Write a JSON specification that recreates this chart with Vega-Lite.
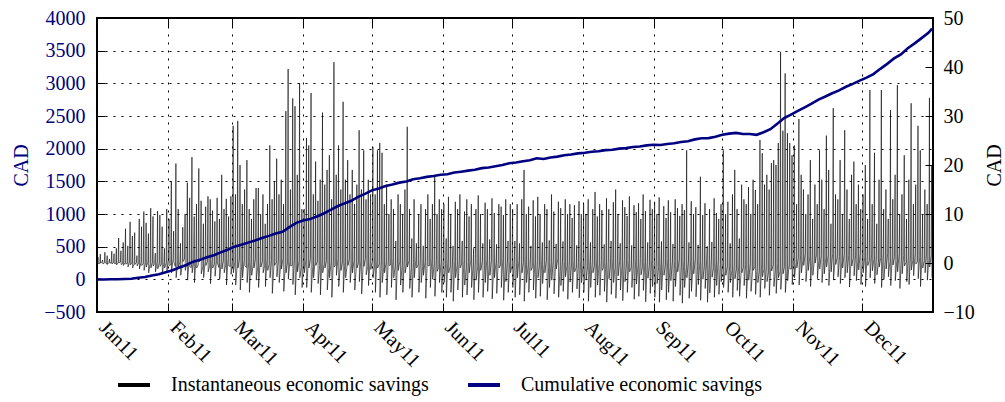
{
"$schema":"https://vega.github.io/schema/vega-lite/v6.json",
"width":836,"height":294,"autosize":"none",
"padding":{"left":97,"top":18,"right":72,"bottom":90},
"background":"white",
"config":{"font":"Liberation Serif, Times New Roman, DejaVu Serif, serif","view":{"stroke":"black","strokeWidth":2},
"axis":{"labelFont":"Liberation Serif, Times New Roman, DejaVu Serif, serif","titleFont":"Liberation Serif, Times New Roman, DejaVu Serif, serif","labelFontSize":20,"titleFontSize":20,"titleFontWeight":"normal","domain":false,"tickColor":"black","tickWidth":1,"gridColor":"black","gridDash":[2,6],"gridWidth":1,"gridOpacity":1,"labelColor":"black"},
"legend":{"orient":"none","legendX":19,"legendY":349,"direction":"horizontal","labelFont":"Liberation Serif, Times New Roman, DejaVu Serif, serif","labelFontSize":20,"symbolType":"stroke","symbolSize":1024,"symbolStrokeWidth":4,"labelOffset":19,"columnPadding":31,"labelLimit":500,"padding":0}},
"datasets":{
"inst":[
{"d":0.2,"v":0.1},{"d":0.45,"v":1.2},{"d":0.55,"v":-0.1},
{"d":1.2,"v":-0.1},{"d":1.45,"v":1.8},{"d":1.55,"v":0},
{"d":2.2,"v":0.2},{"d":2.45,"v":0.6},{"d":2.55,"v":-0.2},
{"d":3.2,"v":0},{"d":3.45,"v":2.2},{"d":3.55,"v":0.1},
{"d":4.2,"v":-0.2},{"d":4.45,"v":1.5},{"d":4.55,"v":-0.3},
{"d":5.2,"v":0.1},{"d":5.45,"v":0.8},{"d":5.55,"v":0},
{"d":6.2,"v":0},{"d":6.45,"v":2.4},{"d":6.55,"v":-0.2},
{"d":7.2,"v":0.15},{"d":7.45,"v":1.9},{"d":7.55,"v":-0.1},
{"d":8.2,"v":-0.1},{"d":8.45,"v":3.0},{"d":8.55,"v":-0.4},
{"d":9.2,"v":0.05},{"d":9.45,"v":5.1},{"d":9.55,"v":0},
{"d":10.2,"v":0.2},{"d":10.45,"v":2.5},{"d":10.55,"v":-0.3},
{"d":11.2,"v":-0.15},{"d":11.45,"v":4.2},{"d":11.55,"v":-0.5},
{"d":12.2,"v":0.1},{"d":12.45,"v":7.0},{"d":12.55,"v":-0.2},
{"d":13.2,"v":-0.1},{"d":13.45,"v":3.5},{"d":13.55,"v":-0.8},
{"d":14.2,"v":0.2},{"d":14.45,"v":8.4},{"d":14.55,"v":-0.4},
{"d":15.2,"v":0},{"d":15.45,"v":5.5},{"d":15.55,"v":-1.0},
{"d":16.2,"v":-0.2},{"d":16.45,"v":6.2},{"d":16.55,"v":-0.3},
{"d":17.2,"v":0.1},{"d":17.45,"v":1.5},{"d":17.55,"v":-0.6},
{"d":18.2,"v":0},{"d":18.45,"v":9.0},{"d":18.55,"v":-1.2},
{"d":19.2,"v":0.15},{"d":19.45,"v":7.4},{"d":19.55,"v":-0.5},
{"d":20.2,"v":-0.1},{"d":20.45,"v":10.5},{"d":20.55,"v":-1.5},
{"d":21.2,"v":0.05},{"d":21.45,"v":8.2},{"d":21.55,"v":-0.8},
{"d":22.2,"v":0.2},{"d":22.45,"v":6.0},{"d":22.55,"v":-2.0},
{"d":23.2,"v":-0.15},{"d":23.45,"v":11.2},{"d":23.55,"v":-1.0},
{"d":24.2,"v":0.1},{"d":24.45,"v":9.5},{"d":24.55,"v":-0.6},
{"d":25.2,"v":-0.1},{"d":25.45,"v":2.0},{"d":25.55,"v":-1.8},
{"d":26.2,"v":0.2},{"d":26.45,"v":10.6},{"d":26.55,"v":-1.2},
{"d":27.2,"v":0},{"d":27.45,"v":9.8},{"d":27.55,"v":-0.7},
{"d":28.2,"v":-0.2},{"d":28.45,"v":7.4},{"d":28.55,"v":-2.2},
{"d":29.2,"v":0.1},{"d":29.45,"v":3.0},{"d":29.55,"v":-1.0},
{"d":30.2,"v":0},{"d":30.45,"v":11.0},{"d":30.55,"v":-1.6},
{"d":31.2,"v":0.6},{"d":31.45,"v":9.0},{"d":31.55,"v":-0.5},
{"d":32.2,"v":-0.4},{"d":32.45,"v":16.7},{"d":32.55,"v":-2},
{"d":33.2,"v":0.9},{"d":33.45,"v":6.5},{"d":33.55,"v":0.2},
{"d":34.2,"v":-0.7},{"d":34.45,"v":20.3},{"d":34.55,"v":-3},
{"d":35.2,"v":0.2},{"d":35.45,"v":11.0},{"d":35.55,"v":-1},
{"d":36.2,"v":0.3},{"d":36.45,"v":4.0},{"d":36.55,"v":-2.5},
{"d":37.2,"v":-0.5},{"d":37.45,"v":7.3},{"d":37.55,"v":0.3},
{"d":38.2,"v":0.8},{"d":38.45,"v":10.0},{"d":38.55,"v":-1.5},
{"d":39.2,"v":-0.2},{"d":39.45,"v":16.4},{"d":39.55,"v":-3.5},
{"d":40.2,"v":0.5},{"d":40.45,"v":13.3},{"d":40.55,"v":-0.8},
{"d":41.2,"v":-0.9},{"d":41.45,"v":21.6},{"d":41.55,"v":-2},
{"d":42.2,"v":0.1},{"d":42.45,"v":9.5},{"d":42.55,"v":-4},
{"d":43.2,"v":0.6},{"d":43.45,"v":12.0},{"d":43.55,"v":-1},
{"d":44.2,"v":-0.4},{"d":44.45,"v":19.3},{"d":44.55,"v":0.2},
{"d":45.2,"v":0.9},{"d":45.45,"v":12.7},{"d":45.55,"v":-2.2},
{"d":46.2,"v":-0.7},{"d":46.45,"v":8.0},{"d":46.55,"v":-3},
{"d":47.2,"v":0.2},{"d":47.45,"v":11.5},{"d":47.55,"v":-0.5},
{"d":48.2,"v":0.3},{"d":48.45,"v":13.6},{"d":48.55,"v":-1.8},
{"d":49.2,"v":-0.5},{"d":49.45,"v":13.0},{"d":49.55,"v":-4.2},
{"d":50.2,"v":0.8},{"d":50.45,"v":10.7},{"d":50.55,"v":-1},
{"d":51.2,"v":-0.2},{"d":51.45,"v":8.5},{"d":51.55,"v":-2.7},
{"d":52.2,"v":0.5},{"d":52.45,"v":13.3},{"d":52.55,"v":0},
{"d":53.2,"v":-0.9},{"d":53.45,"v":9.0},{"d":53.55,"v":-3.3},
{"d":54.2,"v":0.1},{"d":54.45,"v":18.0},{"d":54.55,"v":-1.2},
{"d":55.2,"v":0.6},{"d":55.45,"v":11.0},{"d":55.55,"v":-2},
{"d":56.2,"v":-0.4},{"d":56.45,"v":13.1},{"d":56.55,"v":-4.5},
{"d":57.2,"v":0.9},{"d":57.45,"v":9.5},{"d":57.55,"v":-0.6},
{"d":58.2,"v":-0.7},{"d":58.45,"v":13.6},{"d":58.55,"v":-2.3},
{"d":59.2,"v":0.2},{"d":59.45,"v":28},{"d":59.55,"v":-2},
{"d":60.2,"v":0.3},{"d":60.45,"v":14},{"d":60.55,"v":-4.5},
{"d":61.2,"v":-0.5},{"d":61.45,"v":29},{"d":61.55,"v":-1},
{"d":62.2,"v":0.8},{"d":62.45,"v":20},{"d":62.55,"v":-5.5},
{"d":63.2,"v":-0.2},{"d":63.45,"v":12},{"d":63.55,"v":-3},
{"d":64.2,"v":0.5},{"d":64.45,"v":15},{"d":64.55,"v":-0.5},
{"d":65.2,"v":-0.9},{"d":65.45,"v":21},{"d":65.55,"v":-4},
{"d":66.2,"v":0.1},{"d":66.45,"v":11},{"d":66.55,"v":-6},
{"d":67.2,"v":0.6},{"d":67.45,"v":9},{"d":67.55,"v":-2.5},
{"d":68.2,"v":-0.4},{"d":68.45,"v":13},{"d":68.55,"v":-1},
{"d":69.2,"v":0.9},{"d":69.45,"v":15.3},{"d":69.55,"v":-3.5},
{"d":70.2,"v":-0.7},{"d":70.45,"v":15.3},{"d":70.55,"v":-5},
{"d":71.2,"v":0.2},{"d":71.45,"v":10},{"d":71.55,"v":-0.8},
{"d":72.2,"v":0.3},{"d":72.45,"v":14},{"d":72.55,"v":-2},
{"d":73.2,"v":-0.5},{"d":73.45,"v":8},{"d":73.55,"v":-4.8},
{"d":74.2,"v":0.8},{"d":74.45,"v":12},{"d":74.55,"v":-1.5},
{"d":75.2,"v":-0.2},{"d":75.45,"v":24},{"d":75.55,"v":-3},
{"d":76.2,"v":0.5},{"d":76.45,"v":13},{"d":76.55,"v":-6.2},
{"d":77.2,"v":-0.9},{"d":77.45,"v":16.7},{"d":77.55,"v":-0.5},
{"d":78.2,"v":0.1},{"d":78.45,"v":21.3},{"d":78.55,"v":-2.8},
{"d":79.2,"v":0.6},{"d":79.45,"v":14},{"d":79.55,"v":-4},
{"d":80.2,"v":-0.4},{"d":80.45,"v":17},{"d":80.55,"v":-1.2},
{"d":81.2,"v":0.9},{"d":81.45,"v":12},{"d":81.55,"v":-5.8},
{"d":82.2,"v":-0.7},{"d":82.45,"v":31},{"d":82.55,"v":-2},
{"d":83.2,"v":0.2},{"d":83.45,"v":39.6},{"d":83.55,"v":-3.3},
{"d":84.2,"v":0.3},{"d":84.45,"v":15},{"d":84.55,"v":-0.6},
{"d":85.2,"v":-0.5},{"d":85.45,"v":33.6},{"d":85.55,"v":-4.4},
{"d":86.2,"v":0.8},{"d":86.45,"v":32},{"d":86.55,"v":-6.5},
{"d":87.2,"v":-0.2},{"d":87.45,"v":18},{"d":87.55,"v":-1.8},
{"d":88.2,"v":0.5},{"d":88.45,"v":36.7},{"d":88.55,"v":-3},
{"d":89.2,"v":-0.9},{"d":89.45,"v":11},{"d":89.55,"v":-5},
{"d":90.2,"v":0.1},{"d":90.45,"v":11},{"d":90.55,"v":-2},
{"d":91.2,"v":0.6},{"d":91.45,"v":25.5},{"d":91.55,"v":-5},
{"d":92.2,"v":-0.4},{"d":92.45,"v":24},{"d":92.55,"v":-1},
{"d":93.2,"v":0.9},{"d":93.45,"v":34.7},{"d":93.55,"v":-6},
{"d":94.2,"v":-0.7},{"d":94.45,"v":14},{"d":94.55,"v":-3},
{"d":95.2,"v":0.2},{"d":95.45,"v":20.7},{"d":95.55,"v":-0.5},
{"d":96.2,"v":0.3},{"d":96.45,"v":12.7},{"d":96.55,"v":-4.2},
{"d":97.2,"v":-0.5},{"d":97.45,"v":17},{"d":97.55,"v":-6.5},
{"d":98.2,"v":0.8},{"d":98.45,"v":30.7},{"d":98.55,"v":-2},
{"d":99.2,"v":-0.2},{"d":99.45,"v":16},{"d":99.55,"v":-1},
{"d":100.2,"v":0.5},{"d":100.45,"v":19},{"d":100.55,"v":-5.5},
{"d":101.2,"v":-0.9},{"d":101.45,"v":22},{"d":101.55,"v":-3},
{"d":102.2,"v":0.1},{"d":102.45,"v":13},{"d":102.55,"v":-7},
{"d":103.2,"v":0.6},{"d":103.45,"v":41},{"d":103.55,"v":-0.8},
{"d":104.2,"v":-0.4},{"d":104.45,"v":18},{"d":104.55,"v":-2.5},
{"d":105.2,"v":0.9},{"d":105.45,"v":24},{"d":105.55,"v":-4.8},
{"d":106.2,"v":-0.7},{"d":106.45,"v":15},{"d":106.55,"v":-1.5},
{"d":107.2,"v":0.2},{"d":107.45,"v":32.9},{"d":107.55,"v":-6},
{"d":108.2,"v":0.3},{"d":108.45,"v":17},{"d":108.55,"v":-3},
{"d":109.2,"v":-0.5},{"d":109.45,"v":21},{"d":109.55,"v":-0.5},
{"d":110.2,"v":0.8},{"d":110.45,"v":14},{"d":110.55,"v":-4},
{"d":111.2,"v":-0.2},{"d":111.45,"v":19},{"d":111.55,"v":-2},
{"d":112.2,"v":0.5},{"d":112.45,"v":12},{"d":112.55,"v":-5.5},
{"d":113.2,"v":-0.9},{"d":113.45,"v":16},{"d":113.55,"v":-1},
{"d":114.2,"v":0.1},{"d":114.45,"v":27.1},{"d":114.55,"v":-3.8},
{"d":115.2,"v":0.6},{"d":115.45,"v":15},{"d":115.55,"v":-6.3},
{"d":116.2,"v":-0.4},{"d":116.45,"v":23},{"d":116.55,"v":-0.7},
{"d":117.2,"v":0.9},{"d":117.45,"v":13},{"d":117.55,"v":-2.4},
{"d":118.2,"v":-0.7},{"d":118.45,"v":17},{"d":118.55,"v":-4.6},
{"d":119.2,"v":0.2},{"d":119.45,"v":14},{"d":119.55,"v":-1.3},
{"d":120.2,"v":0.3},{"d":120.45,"v":23.7},{"d":120.55,"v":-3},
{"d":121.2,"v":-0.5},{"d":121.45,"v":14},{"d":121.55,"v":-6},
{"d":122.2,"v":0.8},{"d":122.45,"v":23},{"d":122.55,"v":-1},
{"d":123.2,"v":-0.2},{"d":123.45,"v":24.5},{"d":123.55,"v":-7},
{"d":124.2,"v":0.5},{"d":124.45,"v":22.5},{"d":124.55,"v":-4},
{"d":125.2,"v":-0.9},{"d":125.45,"v":12},{"d":125.55,"v":-2},
{"d":126.2,"v":0.1},{"d":126.45,"v":16},{"d":126.55,"v":-6.5},
{"d":127.2,"v":0.6},{"d":127.45,"v":10},{"d":127.55,"v":-0.5},
{"d":128.2,"v":-0.4},{"d":128.45,"v":13},{"d":128.55,"v":-5},
{"d":129.2,"v":0.9},{"d":129.45,"v":11},{"d":129.55,"v":-3},
{"d":130.2,"v":-0.7},{"d":130.45,"v":4.5},{"d":130.55,"v":-7.5},
{"d":131.2,"v":0.2},{"d":131.45,"v":14},{"d":131.55,"v":-1.5},
{"d":132.2,"v":0.3},{"d":132.45,"v":12},{"d":132.55,"v":-4.5},
{"d":133.2,"v":-0.5},{"d":133.45,"v":10},{"d":133.55,"v":-6},
{"d":134.2,"v":0.8},{"d":134.45,"v":15},{"d":134.55,"v":-2},
{"d":135.2,"v":-0.2},{"d":135.45,"v":27.8},{"d":135.55,"v":-0.8},
{"d":136.2,"v":0.5},{"d":136.45,"v":11},{"d":136.55,"v":-5.2},
{"d":137.2,"v":-0.9},{"d":137.45,"v":5},{"d":137.55,"v":-7},
{"d":138.2,"v":0.1},{"d":138.45,"v":13},{"d":138.55,"v":-3},
{"d":139.2,"v":0.6},{"d":139.45,"v":4},{"d":139.55,"v":-1},
{"d":140.2,"v":-0.4},{"d":140.45,"v":10},{"d":140.55,"v":-6},
{"d":141.2,"v":0.9},{"d":141.45,"v":12},{"d":141.55,"v":-4},
{"d":142.2,"v":-0.7},{"d":142.45,"v":3.5},{"d":142.55,"v":-2.5},
{"d":143.2,"v":0.2},{"d":143.45,"v":11},{"d":143.55,"v":-7.2},
{"d":144.2,"v":0.3},{"d":144.45,"v":14},{"d":144.55,"v":-0.6},
{"d":145.2,"v":-0.5},{"d":145.45,"v":9},{"d":145.55,"v":-5},
{"d":146.2,"v":0.8},{"d":146.45,"v":12},{"d":146.55,"v":-3.3},
{"d":147.2,"v":-0.2},{"d":147.45,"v":18},{"d":147.55,"v":-6.8},
{"d":148.2,"v":0.5},{"d":148.45,"v":10},{"d":148.55,"v":-1.7},
{"d":149.2,"v":-0.9},{"d":149.45,"v":13},{"d":149.55,"v":-4},
{"d":150.2,"v":0.1},{"d":150.45,"v":11},{"d":150.55,"v":-6},
{"d":151.2,"v":0.6},{"d":151.45,"v":12},{"d":151.55,"v":-4},
{"d":152.2,"v":-0.4},{"d":152.45,"v":5},{"d":152.55,"v":-7},
{"d":153.2,"v":0.9},{"d":153.45,"v":13.5},{"d":153.55,"v":-2},
{"d":154.2,"v":-0.7},{"d":154.45,"v":10},{"d":154.55,"v":-6},
{"d":155.2,"v":0.2},{"d":155.45,"v":3.5},{"d":155.55,"v":-7.8},
{"d":156.2,"v":0.3},{"d":156.45,"v":12.5},{"d":156.55,"v":-3},
{"d":157.2,"v":-0.5},{"d":157.45,"v":11},{"d":157.55,"v":-5.5},
{"d":158.2,"v":0.8},{"d":158.45,"v":14},{"d":158.55,"v":-1},
{"d":159.2,"v":-0.2},{"d":159.45,"v":4.5},{"d":159.55,"v":-7},
{"d":160.2,"v":0.5},{"d":160.45,"v":10.5},{"d":160.55,"v":-4.5},
{"d":161.2,"v":-0.9},{"d":161.45,"v":13},{"d":161.55,"v":-6.5},
{"d":162.2,"v":0.1},{"d":162.45,"v":9.5},{"d":162.55,"v":-2},
{"d":163.2,"v":0.6},{"d":163.45,"v":12},{"d":163.55,"v":-5},
{"d":164.2,"v":-0.4},{"d":164.45,"v":3},{"d":164.55,"v":-7.5},
{"d":165.2,"v":0.9},{"d":165.45,"v":11},{"d":165.55,"v":-3.5},
{"d":166.2,"v":-0.7},{"d":166.45,"v":13.8},{"d":166.55,"v":-6},
{"d":167.2,"v":0.2},{"d":167.45,"v":10},{"d":167.55,"v":-1.5},
{"d":168.2,"v":0.3},{"d":168.45,"v":4},{"d":168.55,"v":-7},
{"d":169.2,"v":-0.5},{"d":169.45,"v":12.3},{"d":169.55,"v":-4},
{"d":170.2,"v":0.8},{"d":170.45,"v":11},{"d":170.55,"v":-5.8},
{"d":171.2,"v":-0.2},{"d":171.45,"v":4.8},{"d":171.55,"v":-2.5},
{"d":172.2,"v":0.5},{"d":172.45,"v":13.2},{"d":172.55,"v":-7.3},
{"d":173.2,"v":-0.9},{"d":173.45,"v":10.2},{"d":173.55,"v":-3},
{"d":174.2,"v":0.1},{"d":174.45,"v":3.8},{"d":174.55,"v":-6.2},
{"d":175.2,"v":0.6},{"d":175.45,"v":12},{"d":175.55,"v":-1},
{"d":176.2,"v":-0.4},{"d":176.45,"v":11.5},{"d":176.55,"v":-5},
{"d":177.2,"v":0.9},{"d":177.45,"v":9.8},{"d":177.55,"v":-7.6},
{"d":178.2,"v":-0.7},{"d":178.45,"v":13},{"d":178.55,"v":-3.8},
{"d":179.2,"v":0.2},{"d":179.45,"v":4.5},{"d":179.55,"v":-6},
{"d":180.2,"v":0.3},{"d":180.45,"v":12},{"d":180.55,"v":-2},
{"d":181.2,"v":-0.5},{"d":181.45,"v":11},{"d":181.55,"v":-5},
{"d":182.2,"v":0.8},{"d":182.45,"v":4.5},{"d":182.55,"v":-7},
{"d":183.2,"v":-0.2},{"d":183.45,"v":12},{"d":183.55,"v":-3},
{"d":184.2,"v":0.5},{"d":184.45,"v":4},{"d":184.55,"v":-6.5},
{"d":185.2,"v":-0.9},{"d":185.45,"v":13},{"d":185.55,"v":-2},
{"d":186.2,"v":0.1},{"d":186.45,"v":19},{"d":186.55,"v":-7.8},
{"d":187.2,"v":0.6},{"d":187.45,"v":10},{"d":187.55,"v":-4},
{"d":188.2,"v":-0.4},{"d":188.45,"v":11.5},{"d":188.55,"v":-6},
{"d":189.2,"v":0.9},{"d":189.45,"v":3.5},{"d":189.55,"v":-1.5},
{"d":190.2,"v":-0.7},{"d":190.45,"v":12.8},{"d":190.55,"v":-5.5},
{"d":191.2,"v":0.2},{"d":191.45,"v":9.5},{"d":191.55,"v":-7.2},
{"d":192.2,"v":0.3},{"d":192.45,"v":13.5},{"d":192.55,"v":-3},
{"d":193.2,"v":-0.5},{"d":193.45,"v":10},{"d":193.55,"v":-6.8},
{"d":194.2,"v":0.8},{"d":194.45,"v":4.2},{"d":194.55,"v":-4.2},
{"d":195.2,"v":-0.2},{"d":195.45,"v":12},{"d":195.55,"v":-2},
{"d":196.2,"v":0.5},{"d":196.45,"v":11},{"d":196.55,"v":-7.5},
{"d":197.2,"v":-0.9},{"d":197.45,"v":4.6},{"d":197.55,"v":-5},
{"d":198.2,"v":0.1},{"d":198.45,"v":14},{"d":198.55,"v":-3.5},
{"d":199.2,"v":0.6},{"d":199.45,"v":10.5},{"d":199.55,"v":-6.3},
{"d":200.2,"v":-0.4},{"d":200.45,"v":3.9},{"d":200.55,"v":-1.2},
{"d":201.2,"v":0.9},{"d":201.45,"v":12.5},{"d":201.55,"v":-7},
{"d":202.2,"v":-0.7},{"d":202.45,"v":11.2},{"d":202.55,"v":-4.6},
{"d":203.2,"v":0.2},{"d":203.45,"v":4.4},{"d":203.55,"v":-5.8},
{"d":204.2,"v":0.3},{"d":204.45,"v":13},{"d":204.55,"v":-2.8},
{"d":205.2,"v":-0.5},{"d":205.45,"v":10},{"d":205.55,"v":-7.4},
{"d":206.2,"v":0.8},{"d":206.45,"v":12},{"d":206.55,"v":-3.9},
{"d":207.2,"v":-0.2},{"d":207.45,"v":9.2},{"d":207.55,"v":-6},
{"d":208.2,"v":0.5},{"d":208.45,"v":11.8},{"d":208.55,"v":-1.8},
{"d":209.2,"v":-0.9},{"d":209.45,"v":3.6},{"d":209.55,"v":-5.3},
{"d":210.2,"v":0.1},{"d":210.45,"v":12.6},{"d":210.55,"v":-7.1},
{"d":211.2,"v":0.6},{"d":211.45,"v":10},{"d":211.55,"v":-4},
{"d":212.2,"v":-0.4},{"d":212.45,"v":12},{"d":212.55,"v":-6},
{"d":213.2,"v":0.9},{"d":213.45,"v":10},{"d":213.55,"v":-3.5},
{"d":214.2,"v":-0.7},{"d":214.45,"v":13},{"d":214.55,"v":-7.8},
{"d":215.2,"v":0.2},{"d":215.45,"v":4.2},{"d":215.55,"v":-5},
{"d":216.2,"v":0.3},{"d":216.45,"v":11},{"d":216.55,"v":-2},
{"d":217.2,"v":-0.5},{"d":217.45,"v":14.5},{"d":217.55,"v":-7},
{"d":218.2,"v":0.8},{"d":218.45,"v":9.5},{"d":218.55,"v":-4.5},
{"d":219.2,"v":-0.2},{"d":219.45,"v":12},{"d":219.55,"v":-6.6},
{"d":220.2,"v":0.5},{"d":220.45,"v":10.8},{"d":220.55,"v":-1.5},
{"d":221.2,"v":-0.9},{"d":221.45,"v":3.8},{"d":221.55,"v":-5.8},
{"d":222.2,"v":0.1},{"d":222.45,"v":13.2},{"d":222.55,"v":-8},
{"d":223.2,"v":0.6},{"d":223.45,"v":11},{"d":223.55,"v":-3.2},
{"d":224.2,"v":-0.4},{"d":224.45,"v":4.5},{"d":224.55,"v":-6.4},
{"d":225.2,"v":0.9},{"d":225.45,"v":12.4},{"d":225.55,"v":-4},
{"d":226.2,"v":-0.7},{"d":226.45,"v":15},{"d":226.55,"v":-7.2},
{"d":227.2,"v":0.2},{"d":227.45,"v":10},{"d":227.55,"v":-2.6},
{"d":228.2,"v":0.3},{"d":228.45,"v":4},{"d":228.55,"v":-5.5},
{"d":229.2,"v":-0.5},{"d":229.45,"v":12.8},{"d":229.55,"v":-7.7},
{"d":230.2,"v":0.8},{"d":230.45,"v":11.4},{"d":230.55,"v":-3.8},
{"d":231.2,"v":-0.2},{"d":231.45,"v":9.6},{"d":231.55,"v":-6},
{"d":232.2,"v":0.5},{"d":232.45,"v":13.6},{"d":232.55,"v":-1.8},
{"d":233.2,"v":-0.9},{"d":233.45,"v":3.6},{"d":233.55,"v":-5},
{"d":234.2,"v":0.1},{"d":234.45,"v":11.8},{"d":234.55,"v":-7.4},
{"d":235.2,"v":0.6},{"d":235.45,"v":10.4},{"d":235.55,"v":-4.3},
{"d":236.2,"v":-0.4},{"d":236.45,"v":12.2},{"d":236.55,"v":-6.8},
{"d":237.2,"v":0.9},{"d":237.45,"v":9},{"d":237.55,"v":-2.4},
{"d":238.2,"v":-0.7},{"d":238.45,"v":14},{"d":238.55,"v":-5.6},
{"d":239.2,"v":0.2},{"d":239.45,"v":10.6},{"d":239.55,"v":-7.9},
{"d":240.2,"v":0.3},{"d":240.45,"v":4.2},{"d":240.55,"v":-3.1},
{"d":241.2,"v":-0.5},{"d":241.45,"v":12.9},{"d":241.55,"v":-6.2},
{"d":242.2,"v":0.8},{"d":242.45,"v":11},{"d":242.55,"v":-4.8},
{"d":243.2,"v":-0.2},{"d":243.45,"v":12.5},{"d":243.55,"v":-7},
{"d":244.2,"v":0.5},{"d":244.45,"v":10},{"d":244.55,"v":-4.2},
{"d":245.2,"v":-0.9},{"d":245.45,"v":13.4},{"d":245.55,"v":-8},
{"d":246.2,"v":0.1},{"d":246.45,"v":4.4},{"d":246.55,"v":-5.5},
{"d":247.2,"v":0.6},{"d":247.45,"v":11.6},{"d":247.55,"v":-2.5},
{"d":248.2,"v":-0.4},{"d":248.45,"v":9.2},{"d":248.55,"v":-7.5},
{"d":249.2,"v":0.9},{"d":249.45,"v":12.8},{"d":249.55,"v":-6},
{"d":250.2,"v":-0.7},{"d":250.45,"v":10.4},{"d":250.55,"v":-3.6},
{"d":251.2,"v":0.2},{"d":251.45,"v":3.9},{"d":251.55,"v":-7.8},
{"d":252.2,"v":0.3},{"d":252.45,"v":13},{"d":252.55,"v":-4.8},
{"d":253.2,"v":-0.5},{"d":253.45,"v":11.2},{"d":253.55,"v":-1.8},
{"d":254.2,"v":0.8},{"d":254.45,"v":9.6},{"d":254.55,"v":-6.6},
{"d":255.2,"v":-0.2},{"d":255.45,"v":12},{"d":255.55,"v":-8.2},
{"d":256.2,"v":0.5},{"d":256.45,"v":10.8},{"d":256.55,"v":-5},
{"d":257.2,"v":-0.9},{"d":257.45,"v":23},{"d":257.55,"v":-3},
{"d":258.2,"v":0.1},{"d":258.45,"v":4.2},{"d":258.55,"v":-7.2},
{"d":259.2,"v":0.6},{"d":259.45,"v":12.6},{"d":259.55,"v":-5.8},
{"d":260.2,"v":-0.4},{"d":260.45,"v":10},{"d":260.55,"v":-2.2},
{"d":261.2,"v":0.9},{"d":261.45,"v":11.4},{"d":261.55,"v":-6.9},
{"d":262.2,"v":-0.7},{"d":262.45,"v":3.7},{"d":262.55,"v":-4.4},
{"d":263.2,"v":0.2},{"d":263.45,"v":17.6},{"d":263.55,"v":-7.6},
{"d":264.2,"v":0.3},{"d":264.45,"v":9.8},{"d":264.55,"v":-3.3},
{"d":265.2,"v":-0.5},{"d":265.45,"v":12.2},{"d":265.55,"v":-5.2},
{"d":266.2,"v":0.8},{"d":266.45,"v":3.4},{"d":266.55,"v":-8},
{"d":267.2,"v":-0.2},{"d":267.45,"v":11},{"d":267.55,"v":-6.1},
{"d":268.2,"v":0.5},{"d":268.45,"v":4.3},{"d":268.55,"v":-2.9},
{"d":269.2,"v":-0.9},{"d":269.45,"v":13.2},{"d":269.55,"v":-7},
{"d":270.2,"v":0.1},{"d":270.45,"v":10.2},{"d":270.55,"v":-4.6},
{"d":271.2,"v":0.6},{"d":271.45,"v":9},{"d":271.55,"v":-6.4},
{"d":272.2,"v":-0.4},{"d":272.45,"v":12},{"d":272.55,"v":-3.8},
{"d":273.2,"v":-0.1},{"d":273.45,"v":23},{"d":273.55,"v":-5},
{"d":274.2,"v":-1.7},{"d":274.45,"v":10},{"d":274.55,"v":-2.5},
{"d":275.2,"v":-0.8},{"d":275.45,"v":12.5},{"d":275.55,"v":-6},
{"d":276.2,"v":-0.7},{"d":276.45,"v":4},{"d":276.55,"v":-4},
{"d":277.2,"v":-1.5},{"d":277.45,"v":14},{"d":277.55,"v":-7},
{"d":278.2,"v":-0.2},{"d":278.45,"v":19},{"d":278.55,"v":-3.2},
{"d":279.2,"v":-1.2},{"d":279.45,"v":11},{"d":279.55,"v":-5.6},
{"d":280.2,"v":-0.5},{"d":280.45,"v":5},{"d":280.55,"v":-6.8},
{"d":281.2,"v":-1.9},{"d":281.45,"v":16},{"d":281.55,"v":-2},
{"d":282.2,"v":-0.9},{"d":282.45,"v":13},{"d":282.55,"v":-4.6},
{"d":283.2,"v":-0.4},{"d":283.45,"v":12},{"d":283.55,"v":-7.2},
{"d":284.2,"v":-1.4},{"d":284.45,"v":15.5},{"d":284.55,"v":-3.5},
{"d":285.2,"v":-0.1},{"d":285.45,"v":10},{"d":285.55,"v":-5.8},
{"d":286.2,"v":-1.7},{"d":286.45,"v":17},{"d":286.55,"v":-1.5},
{"d":287.2,"v":-0.8},{"d":287.45,"v":14.9},{"d":287.55,"v":-6.4},
{"d":288.2,"v":-0.7},{"d":288.45,"v":12},{"d":288.55,"v":-4},
{"d":289.2,"v":-1.5},{"d":289.45,"v":25.1},{"d":289.55,"v":-7},
{"d":290.2,"v":-0.2},{"d":290.45,"v":22.4},{"d":290.55,"v":-2.8},
{"d":291.2,"v":-1.2},{"d":291.45,"v":16},{"d":291.55,"v":-5.2},
{"d":292.2,"v":-0.5},{"d":292.45,"v":18},{"d":292.55,"v":-3.8},
{"d":293.2,"v":-1.9},{"d":293.45,"v":15},{"d":293.55,"v":-6.6},
{"d":294.2,"v":-0.9},{"d":294.45,"v":20.4},{"d":294.55,"v":-1.6},
{"d":295.2,"v":-0.4},{"d":295.45,"v":21},{"d":295.55,"v":-4.8},
{"d":296.2,"v":-1.4},{"d":296.45,"v":20},{"d":296.55,"v":-6.2},
{"d":297.2,"v":-0.1},{"d":297.45,"v":24.5},{"d":297.55,"v":-3},
{"d":298.2,"v":-1.7},{"d":298.45,"v":43.1},{"d":298.55,"v":-5.4},
{"d":299.2,"v":-0.8},{"d":299.45,"v":27},{"d":299.55,"v":-2.2},
{"d":300.2,"v":-0.7},{"d":300.45,"v":38.7},{"d":300.55,"v":-6},
{"d":301.2,"v":-1.5},{"d":301.45,"v":26.5},{"d":301.55,"v":-3.6},
{"d":302.2,"v":-0.2},{"d":302.45,"v":24.5},{"d":302.55,"v":-1.2},
{"d":303.2,"v":-1.2},{"d":303.45,"v":22},{"d":303.55,"v":-4.4},
{"d":304.2,"v":1.5},{"d":304.45,"v":24},{"d":304.55,"v":-3},
{"d":305.2,"v":0.1},{"d":305.45,"v":12},{"d":305.55,"v":-1},
{"d":306.2,"v":1.1},{"d":306.45,"v":29.4},{"d":306.55,"v":-4.5},
{"d":307.2,"v":1.6},{"d":307.45,"v":18},{"d":307.55,"v":-2},
{"d":308.2,"v":0.6},{"d":308.45,"v":15},{"d":308.55,"v":-0.5},
{"d":309.2,"v":1.9},{"d":309.45,"v":10},{"d":309.55,"v":-3.8},
{"d":310.2,"v":0.3},{"d":310.45,"v":14},{"d":310.55,"v":-1.5},
{"d":311.2,"v":1.2},{"d":311.45,"v":21},{"d":311.55,"v":-4.8},
{"d":312.2,"v":1.3},{"d":312.45,"v":9},{"d":312.55,"v":-2.5},
{"d":313.2,"v":0.5},{"d":313.45,"v":16},{"d":313.55,"v":0},
{"d":314.2,"v":1.8},{"d":314.45,"v":12},{"d":314.55,"v":-3.2},
{"d":315.2,"v":0.8},{"d":315.45,"v":23},{"d":315.55,"v":-1.2},
{"d":316.2,"v":1.5},{"d":316.45,"v":17},{"d":316.55,"v":-4},
{"d":317.2,"v":0.1},{"d":317.45,"v":11},{"d":317.55,"v":-2.2},
{"d":318.2,"v":1.1},{"d":318.45,"v":26},{"d":318.55,"v":-0.8},
{"d":319.2,"v":1.6},{"d":319.45,"v":19},{"d":319.55,"v":-4.6},
{"d":320.2,"v":0.6},{"d":320.45,"v":8},{"d":320.55,"v":-1.8},
{"d":321.2,"v":1.9},{"d":321.45,"v":31.6},{"d":321.55,"v":-3.5},
{"d":322.2,"v":0.3},{"d":322.45,"v":14},{"d":322.55,"v":-0.3},
{"d":323.2,"v":1.2},{"d":323.45,"v":13},{"d":323.55,"v":-2.8},
{"d":324.2,"v":1.3},{"d":324.45,"v":21},{"d":324.55,"v":-4.2},
{"d":325.2,"v":0.5},{"d":325.45,"v":10},{"d":325.55,"v":-1},
{"d":326.2,"v":1.8},{"d":326.45,"v":27.1},{"d":326.55,"v":-3},
{"d":327.2,"v":0.8},{"d":327.45,"v":15},{"d":327.55,"v":-2},
{"d":328.2,"v":1.5},{"d":328.45,"v":9},{"d":328.55,"v":-4.9},
{"d":329.2,"v":0.1},{"d":329.45,"v":18},{"d":329.55,"v":-0.6},
{"d":330.2,"v":1.1},{"d":330.45,"v":20.7},{"d":330.55,"v":-2.6},
{"d":331.2,"v":1.6},{"d":331.45,"v":12},{"d":331.55,"v":-3.6},
{"d":332.2,"v":0.6},{"d":332.45,"v":16},{"d":332.55,"v":-1.4},
{"d":333.2,"v":1.9},{"d":333.45,"v":11},{"d":333.55,"v":-4.4},
{"d":334.2,"v":0.3},{"d":334.45,"v":14},{"d":334.55,"v":-2},
{"d":335.2,"v":1.2},{"d":335.45,"v":20},{"d":335.55,"v":-4.8},
{"d":336.2,"v":1.3},{"d":336.45,"v":9},{"d":336.55,"v":-0.5},
{"d":337.2,"v":0.5},{"d":337.45,"v":35.3},{"d":337.55,"v":-3},
{"d":338.2,"v":1.8},{"d":338.45,"v":12},{"d":338.55,"v":-1.6},
{"d":339.2,"v":0.8},{"d":339.45,"v":22.5},{"d":339.55,"v":-4.2},
{"d":340.2,"v":1.5},{"d":340.45,"v":8},{"d":340.55,"v":-2.4},
{"d":341.2,"v":0.1},{"d":341.45,"v":17},{"d":341.55,"v":-0.8},
{"d":342.2,"v":1.1},{"d":342.45,"v":35.3},{"d":342.55,"v":-5},
{"d":343.2,"v":1.6},{"d":343.45,"v":11},{"d":343.55,"v":-3.4},
{"d":344.2,"v":0.6},{"d":344.45,"v":15},{"d":344.55,"v":-1.2},
{"d":345.2,"v":1.9},{"d":345.45,"v":9},{"d":345.55,"v":-2.8},
{"d":346.2,"v":0.3},{"d":346.45,"v":31.2},{"d":346.55,"v":-4.6},
{"d":347.2,"v":1.2},{"d":347.45,"v":13},{"d":347.55,"v":-0.4},
{"d":348.2,"v":1.3},{"d":348.45,"v":18},{"d":348.55,"v":-3.6},
{"d":349.2,"v":0.5},{"d":349.45,"v":36.3},{"d":349.55,"v":-1.8},
{"d":350.2,"v":1.8},{"d":350.45,"v":10},{"d":350.55,"v":-5.2},
{"d":351.2,"v":0.8},{"d":351.45,"v":14},{"d":351.55,"v":-2.2},
{"d":352.2,"v":1.5},{"d":352.45,"v":22},{"d":352.55,"v":-0.6},
{"d":353.2,"v":0.1},{"d":353.45,"v":9},{"d":353.55,"v":-3.8},
{"d":354.2,"v":1.1},{"d":354.45,"v":17},{"d":354.55,"v":-4.4},
{"d":355.2,"v":1.6},{"d":355.45,"v":32.6},{"d":355.55,"v":-1.4},
{"d":356.2,"v":0.6},{"d":356.45,"v":12},{"d":356.55,"v":-2.6},
{"d":357.2,"v":1.9},{"d":357.45,"v":16},{"d":357.55,"v":-0.2},
{"d":358.2,"v":0.3},{"d":358.45,"v":28},{"d":358.55,"v":-3.2},
{"d":359.2,"v":1.2},{"d":359.45,"v":23},{"d":359.55,"v":-4.8},
{"d":360.2,"v":1.3},{"d":360.45,"v":10},{"d":360.55,"v":-1},
{"d":361.2,"v":0.5},{"d":361.45,"v":15},{"d":361.55,"v":-2},
{"d":362.2,"v":1.8},{"d":362.45,"v":12},{"d":362.55,"v":-3.5},
{"d":363.2,"v":0.8},{"d":363.45,"v":33.7},{"d":363.55,"v":-0.8},
{"d":364.2,"v":1.5},{"d":364.45,"v":20},{"d":364.55,"v":-3}
],
"cum":[
{"d":0,"c":0},{"d":3,"c":-3},{"d":6,"c":2},{"d":9,"c":1},{"d":12,"c":5},{"d":15,"c":9},{"d":18,"c":24},{"d":21,"c":36},{"d":24,"c":60},{"d":27,"c":78},{"d":30,"c":110},{"d":33,"c":138},{"d":36,"c":180},{"d":39,"c":220},{"d":42,"c":270},{"d":45,"c":298},{"d":48,"c":338},{"d":51,"c":370},{"d":54,"c":412},{"d":57,"c":452},{"d":60,"c":500},{"d":63,"c":528},{"d":66,"c":562},{"d":69,"c":596},{"d":72,"c":634},{"d":75,"c":665},{"d":78,"c":702},{"d":81,"c":728},{"d":84,"c":800},{"d":87,"c":865},{"d":90,"c":902},{"d":93,"c":922},{"d":96,"c":962},{"d":99,"c":1008},{"d":102,"c":1062},{"d":105,"c":1118},{"d":108,"c":1162},{"d":111,"c":1202},{"d":114,"c":1262},{"d":117,"c":1308},{"d":120,"c":1362},{"d":123,"c":1392},{"d":126,"c":1428},{"d":129,"c":1452},{"d":132,"c":1480},{"d":135,"c":1498},{"d":138,"c":1532},{"d":141,"c":1546},{"d":144,"c":1568},{"d":147,"c":1582},{"d":150,"c":1600},{"d":153,"c":1608},{"d":156,"c":1634},{"d":159,"c":1648},{"d":162,"c":1664},{"d":165,"c":1678},{"d":168,"c":1702},{"d":171,"c":1712},{"d":174,"c":1730},{"d":177,"c":1750},{"d":180,"c":1778},{"d":183,"c":1788},{"d":186,"c":1808},{"d":189,"c":1822},{"d":192,"c":1854},{"d":195,"c":1842},{"d":198,"c":1864},{"d":201,"c":1878},{"d":204,"c":1898},{"d":207,"c":1910},{"d":210,"c":1928},{"d":213,"c":1938},{"d":216,"c":1952},{"d":219,"c":1960},{"d":222,"c":1978},{"d":225,"c":1983},{"d":228,"c":2000},{"d":231,"c":2008},{"d":234,"c":2025},{"d":237,"c":2032},{"d":240,"c":2050},{"d":243,"c":2060},{"d":246,"c":2056},{"d":249,"c":2072},{"d":252,"c":2083},{"d":255,"c":2102},{"d":258,"c":2113},{"d":261,"c":2142},{"d":264,"c":2160},{"d":267,"c":2162},{"d":270,"c":2183},{"d":273,"c":2212},{"d":276,"c":2230},{"d":279,"c":2242},{"d":282,"c":2224},{"d":285,"c":2224},{"d":288,"c":2212},{"d":291,"c":2252},{"d":294,"c":2298},{"d":297,"c":2382},{"d":300,"c":2468},{"d":303,"c":2522},{"d":306,"c":2578},{"d":309,"c":2632},{"d":312,"c":2688},{"d":315,"c":2752},{"d":318,"c":2798},{"d":321,"c":2848},{"d":324,"c":2892},{"d":327,"c":2948},{"d":330,"c":2992},{"d":333,"c":3042},{"d":336,"c":3088},{"d":339,"c":3142},{"d":342,"c":3222},{"d":345,"c":3298},{"d":348,"c":3382},{"d":351,"c":3442},{"d":354,"c":3538},{"d":357,"c":3612},{"d":360,"c":3692},{"d":363,"c":3772},{"d":364.6,"c":3838}
]},
"layer":[
{"data":{"name":"inst"},
 "mark":{"type":"line","strokeWidth":0.6},
 "encoding":{
  "x":{"field":"d","type":"quantitative","scale":{"domain":[0,365],"nice":false,"zero":false},
   "axis":{"orient":"bottom","title":null,"values":[0,31,59,90,120,151,181,212,243,273,304,334],
    "labelExpr":"['Jan11','Feb11','Mar11','Apr11','May11','Jun11','Jul11','Aug11','Sep11','Oct11','Nov11','Dec11'][indexof([0,31,59,90,120,151,181,212,243,273,304,334], datum.value)]",
    "labelAngle":45,"labelAlign":"left","labelBaseline":"top","labelFlush":false,"labelOverlap":false,"labelBound":false,"labelPadding":14,"labelOffset":12,"tickSize":-9,"grid":true}},
  "y":{"field":"v","type":"quantitative","scale":{"domain":[-10,50],"nice":false,"zero":false},
   "axis":{"orient":"right","title":"CAD","titleAngle":270,"titlePadding":30,"values":[-10,0,10,20,30,40,50],"format":"d","grid":false,"tickSize":-8,"labelPadding":18}},
  "color":{"datum":"Instantaneous economic savings","type":"nominal",
   "scale":{"domain":["Instantaneous economic savings","Cumulative economic savings"],"range":["#000000","#000080"]},
   "legend":{"title":null}}
 }},
{"data":{"name":"cum"},
 "mark":{"type":"line","strokeWidth":2.6},
 "encoding":{
  "x":{"field":"d","type":"quantitative",
   "axis":{"orient":"top","title":null,"labels":false,"grid":false,"values":[0,31,59,90,120,151,181,212,243,273,304,334],"tickSize":-9}},
  "y":{"field":"c","type":"quantitative","scale":{"domain":[-500,4000],"nice":false,"zero":false},
   "axis":{"orient":"left","title":"CAD","titleColor":"#000080","labelColor":"#000080","titlePadding":12,"values":[-500,0,500,1000,1500,2000,2500,3000,3500,4000],"format":"d","grid":true,"tickSize":-8,"labelPadding":20}},
  "color":{"datum":"Cumulative economic savings","type":"nominal"}
 }}
],
"resolve":{"scale":{"y":"independent"},"axis":{"x":"independent","y":"independent"}}
}
